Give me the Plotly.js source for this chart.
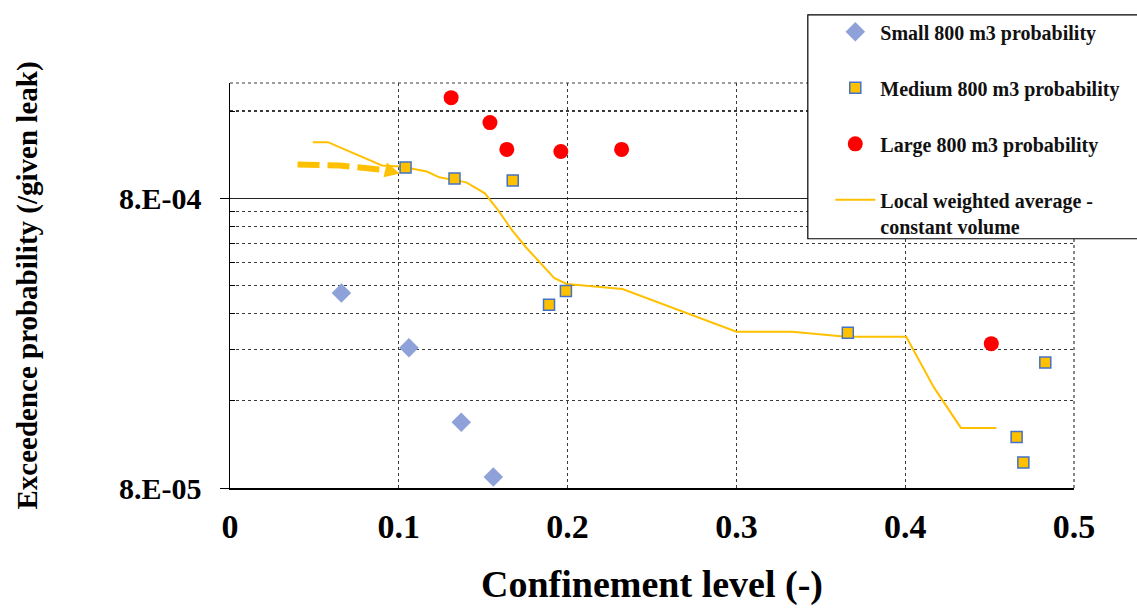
<!DOCTYPE html>
<html>
<head>
<meta charset="utf-8">
<script src="https://cdn.plot.ly/plotly-3.0.1.min.js"></script>
<style>
  html, body { margin: 0; padding: 0; background: #fff; }
  #chart { width: 1137px; height: 615px; }
</style>
</head>
<body>
<div id="chart"></div>
<script>
// ---- data ----
const smallX = [0.066, 0.106, 0.137, 0.156];
const smallY = [3.77e-4, 2.44e-4, 1.35e-4, 8.73e-5];

const mediumX = [0.104, 0.133, 0.1675, 0.189, 0.199, 0.366, 0.466, 0.470, 0.483];
const mediumY = [1.022e-3, 9.37e-4, 9.22e-4, 3.43e-4, 3.83e-4, 2.75e-4, 1.20e-4, 9.8e-5, 2.17e-4];

const largeX = [0.131, 0.154, 0.164, 0.196, 0.232, 0.451];
const largeY = [1.78e-3, 1.46e-3, 1.18e-3, 1.16e-3, 1.18e-3, 2.52e-4];

const avgX = [0.049, 0.058, 0.090, 0.101, 0.1166, 0.124, 0.140, 0.151, 0.158, 0.1675, 0.1757, 0.192, 0.1994, 0.2325, 0.300, 0.333, 0.365, 0.4006, 0.417, 0.433, 0.454];
const avgY = [1.25e-3, 1.25e-3, 1.038e-3, 1.03e-3, 9.9e-4, 9.45e-4, 9.08e-4, 8.32e-4, 7.39e-4, 6.16e-4, 5.39e-4, 4.25e-4, 4.05e-4, 3.89e-4, 2.77e-4, 2.77e-4, 2.66e-4, 2.66e-4, 1.78e-4, 1.29e-4, 1.29e-4];

// dashed arrow (extrapolation marker)
const arrowX = [0.040, 0.065, 0.093];
const arrowY = [1.047e-3, 1.038e-3, 9.99e-4];
const arrowTip = [0.1006, 9.75e-4];

const xTicks = [0, 0.1, 0.2, 0.3, 0.4, 0.5];
const xTickText = ['0', '0.1', '0.2', '0.3', '0.4', '0.5'];
const yTicks = [8e-5, 8e-4];
const yTickText = ['8.E-05', '8.E-04'];
const yMinorTicks = [1.6e-4, 2.4e-4, 3.2e-4, 4.0e-4, 4.8e-4, 5.6e-4, 6.4e-4, 7.2e-4, 1.6e-3];

const legendNames = ['Small 800 m3 probability', 'Medium 800 m3 probability', 'Large 800 m3 probability', 'Local weighted average -<br>constant volume'];

const serif = 'Liberation Serif, Times New Roman, serif';

const traces = [
  {
    x: avgX, y: avgY, type: 'scatter', mode: 'lines', name: legendNames[3],
    line: { color: '#FFC000', width: 2 }, legendgroup: 'd', legendrank: 4
  },
  {
    x: arrowX, y: arrowY, type: 'scatter', mode: 'lines', showlegend: false,
    line: { color: '#FFC000', width: 6, dash: '22px,8px' }, hoverinfo: 'skip'
  },
  {
    x: smallX, y: smallY, type: 'scatter', mode: 'markers', name: legendNames[0],
    marker: { symbol: 'diamond', size: 15, color: '#8EA1D8' }, legendgroup: 'a', legendrank: 1
  },
  {
    x: mediumX, y: mediumY, type: 'scatter', mode: 'markers', name: legendNames[1],
    marker: { symbol: 'square', size: 11, color: '#FFC000', line: { color: '#4472C4', width: 1.5 } },
    legendgroup: 'b', legendrank: 2
  },
  {
    x: largeX, y: largeY, type: 'scatter', mode: 'markers', name: legendNames[2],
    marker: { symbol: 'circle', size: 15, color: '#FF0000' }, legendgroup: 'c', legendrank: 3
  }
];

// plot area: 230..1075 px horizontally, 81..488 px vertically
const pw = 845, ph = 407;
const px = v => (v - 230) / pw;
const py = v => (488 - v) / ph;

const layout = {
  width: 1137, height: 615,
  margin: { l: 230, r: 62, t: 81, b: 127 },
  paper_bgcolor: '#fff', plot_bgcolor: '#fff',
  font: { family: serif, color: '#000' },
  showlegend: true,
  legend: {
    x: px(831), y: py(10), xanchor: 'left', yanchor: 'top',
    bgcolor: 'rgba(0,0,0,0)', borderwidth: 0, valign: 'top',
    font: { family: serif, size: 20, color: '#111', weight: 'bold' },
    traceorder: 'grouped', tracegroupgap: 27, itemwidth: 40
  },
  xaxis: {
    range: [0, 0.5], tickvals: xTicks, ticktext: xTickText,
    showline: true, linecolor: '#000', linewidth: 1.5, mirror: false,
    showgrid: true, gridcolor: '#3a3a3a', griddash: 'dot', gridwidth: 1.2,
    ticks: '', zeroline: false, ticklabelstandoff: 8,
    tickfont: { family: serif, size: 34, color: '#000', weight: 'bold' },
    title: { text: 'Confinement level (-)', font: { family: serif, size: 38, color: '#000', weight: 'bold' }, standoff: 26 }
  },
  yaxis: {
    type: 'log', range: [Math.log10(8e-5), Math.log10(2e-3)],
    tickvals: yTicks, ticktext: yTickText,
    showline: true, linecolor: '#000', linewidth: 1.5,
    showgrid: true, gridcolor: '#222', gridwidth: 1.2,
    ticks: 'outside', ticklen: 9, tickcolor: '#000', ticklabelstandoff: 12,
    zeroline: false,
    tickfont: { family: serif, size: 30, color: '#000', weight: 'bold' },
    minor: {
      tickmode: 'array', tickvals: yMinorTicks,
      ticks: 'inside', ticklen: 5, tickcolor: '#000',
      showgrid: true, gridcolor: '#3a3a3a', griddash: 'dot', gridwidth: 1.2
    },
    title: { text: 'Exceedence probability (/given leak)', font: { family: serif, size: 29, color: '#000', weight: 'bold' }, standoff: 73 }
  },
  shapes: [
    { type: 'line', xref: 'paper', yref: 'paper', x0: 0, x1: 1, y0: 1, y1: 1, line: { color: '#3a3a3a', width: 1.2, dash: 'dot' } },
    { type: 'line', xref: 'paper', yref: 'paper', x0: 1, x1: 1, y0: 0, y1: 1, line: { color: '#3a3a3a', width: 1.2, dash: 'dot' } },
    { type: 'rect', xref: 'paper', yref: 'paper', layer: 'above',
      x0: px(808.5), x1: px(1145), y0: py(237.5), y1: py(12.5),
      fillcolor: '#fff', line: { color: '#000', width: 1.2 } }
  ],
  annotations: [
    {
      x: arrowTip[0], y: Math.log10(arrowTip[1]), xref: 'x', yref: 'y',
      ax: arrowX[arrowX.length - 1], ay: Math.log10(arrowY[arrowY.length - 1]), axref: 'x', ayref: 'y',
      text: '', showarrow: true, arrowhead: 2, arrowsize: 1, arrowwidth: 3, arrowcolor: '#FFC000'
    }
  ]
};

Plotly.newPlot('chart', traces, layout, { displayModeBar: false, staticPlot: true });
</script>
</body>
</html>
